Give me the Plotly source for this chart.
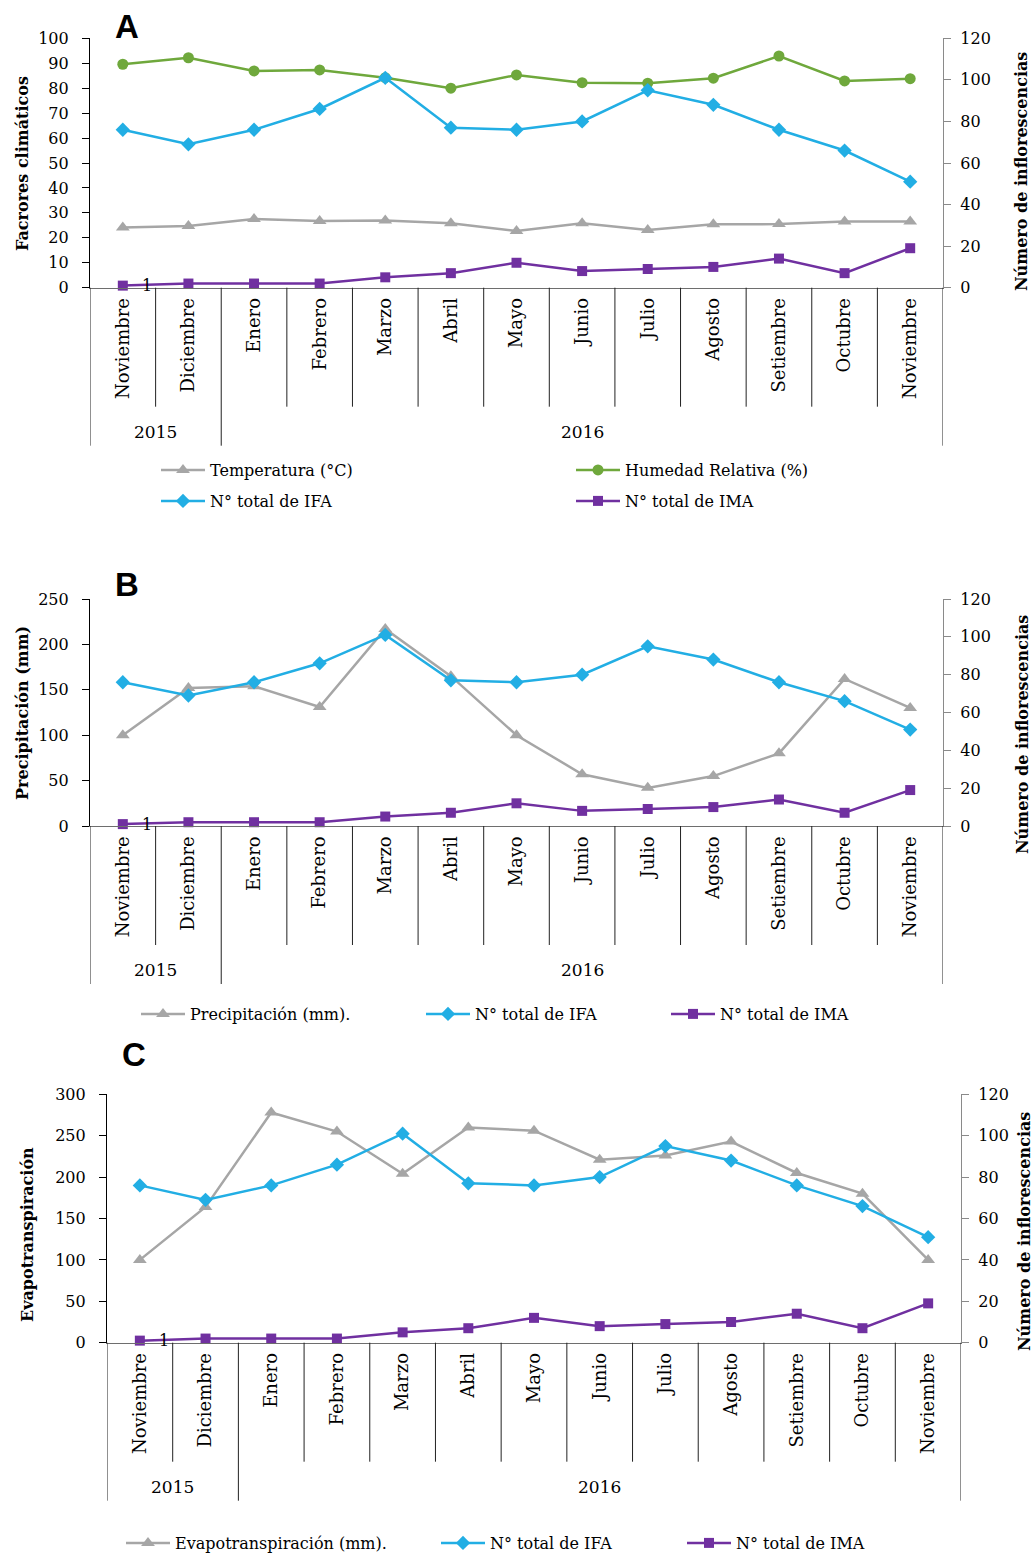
import plotly.graph_objects as go

# ---------------- datos ----------------
meses = ["Noviembre", "Diciembre", "Enero", "Febrero", "Marzo", "Abril", "Mayo",
         "Junio", "Julio", "Agosto", "Setiembre", "Octubre", "Noviembre"]
anios = ["2015", "2016"]
meses_por_anio = [2, 11]

temperatura = [24.1, 24.7, 27.5, 26.7, 26.9, 25.8, 22.7, 25.8, 23.1, 25.4, 25.5, 26.5, 26.5]
humedad = [89.6, 92.2, 86.9, 87.3, 84.2, 80.0, 85.3, 82.2, 82.0, 84.0, 92.9, 82.9, 83.8]
precipitacion = [100, 152, 154, 131, 217, 165, 100, 57, 42, 55, 80, 162, 130]
evapotranspiracion = [100, 164, 278, 255, 204, 260, 256, 221, 226, 243, 205, 180, 100]
ifa = [76, 69, 76, 86, 101, 77, 76, 80, 95, 88, 76, 66, 51]
ima = [1, 2, 2, 2, 5, 7, 12, 8, 9, 10, 14, 7, 19]

# ---------------- estilo ----------------
W, H = 1035, 1558
SERIF = "DejaVu Serif"
GRIS = "#a6a6a6"
VERDE = "#6fa83c"
AZUL = "#22aee4"
MORADO = "#7030a0"
EJE_DER = "#8a8a8a"


def fx(px):
    return px / W


def fy(py):
    return 1 - py / H


pos = list(range(len(meses)))

paneles = [
    dict(letra="A", letra_xy=(127, 26), caja=(90, 943, 38.3, 287.7),
         rango=100, paso=10,
         titulo_izq="Facrores climáticos", titulo_izq_xy=(22, 164),
         titulo_der_xy=(1022, 172),
         series=[("Temperatura (°C)", temperatura, GRIS, "triangle-up", 12),
                 ("Humedad Relativa (%)", humedad, VERDE, "circle", 11)],
         leyenda=[(160, 470), (575, 470), (160, 501), (575, 501)]),
    dict(letra="B", letra_xy=(127, 584), caja=(90, 943, 599, 826),
         rango=250, paso=50,
         titulo_izq="Precipitación (mm)", titulo_izq_xy=(22, 713),
         titulo_der_xy=(1022, 735),
         series=[("Precipitación (mm).", precipitacion, GRIS, "triangle-up", 12)],
         leyenda=[(140, 1014), (425, 1014), (670, 1014)]),
    dict(letra="C", letra_xy=(134, 1054), caja=(107, 961, 1094.3, 1342.7),
         rango=300, paso=50,
         titulo_izq="Evapotranspiración", titulo_izq_xy=(27, 1235),
         titulo_der_xy=(1024, 1232),
         series=[("Evapotranspiración (mm).", evapotranspiracion, GRIS, "triangle-up", 12)],
         leyenda=[(125, 1543), (440, 1543), (686, 1543)]),
]

fig = go.Figure()
layout = dict(width=W, height=H,
              margin=dict(l=0, r=0, t=0, b=0, autoexpand=False),
              paper_bgcolor="white", plot_bgcolor="white", showlegend=True)
shapes, annotations = [], []
n_leyenda = 0


def texto(x, y, t, fuente, xref="paper", yref="paper", **extra):
    d = dict(x=x, y=y, xref=xref, yref=yref, text=t, showarrow=False,
             xanchor="center", yanchor="middle", font=fuente)
    d.update(extra)
    return d


for i, p in enumerate(paneles):
    sx = "" if i == 0 else str(i + 1)
    sy_izq = "" if i == 0 else str(2 * i + 1)
    sy_der = str(2 * i + 2)
    xref, yref_izq, yref_der = "x" + sx, "y" + sy_izq, "y" + sy_der
    x0, x1, ytop, ybot = p["caja"]

    entradas = list(p["series"]) + [
        ("N° total de IFA", ifa, AZUL, "diamond", 11),
        ("N° total de IMA", ima, MORADO, "square", 10),
    ]
    n_izq = len(p["series"])
    for j, (nombre, valores, color, simbolo, tam) in enumerate(entradas):
        n_leyenda += 1
        lid = "legend" if n_leyenda == 1 else f"legend{n_leyenda}"
        lx, ly = p["leyenda"][j]
        fig.add_trace(go.Scatter(
            x=pos, y=valores, name=nombre, mode="lines+markers",
            line=dict(color=color, width=2.5),
            marker=dict(color=color, symbol=simbolo, size=tam),
            xaxis=xref, yaxis=yref_izq if j < n_izq else yref_der,
            legend=lid, cliponaxis=False,
        ))
        layout[lid] = dict(x=fx(lx - 4), y=fy(ly), xanchor="left", yanchor="middle",
                           bgcolor="rgba(0,0,0,0)", borderwidth=0, itemwidth=44,
                           font=dict(family=SERIF, size=16, color="black"))

    # etiqueta de valor del primer punto de IMA
    annotations.append(texto(pos[0], ima[0], str(ima[0]),
                             dict(family=SERIF, size=16, color="black"),
                             xref=xref, yref=yref_der, xshift=24))

    layout["xaxis" + sx] = dict(
        domain=[fx(x0), fx(x1)], anchor=yref_izq, range=[-0.5, len(meses) - 0.5],
        tickmode="array", tickvals=pos, ticktext=meses, tickangle=-90,
        tickfont=dict(family=SERIF, size=18, color="black"), ticks="",
        showline=True, linecolor="#6e6e6e", linewidth=1.2,
        showgrid=False, zeroline=False, ticklabelstandoff=2,
    )
    layout["yaxis" + sy_izq] = dict(
        domain=[fy(ybot), fy(ytop)], anchor=xref, range=[0, p["rango"]], dtick=p["paso"],
        ticks="outside", ticklen=7, tickcolor="black", tickwidth=1,
        showline=True, linecolor="black", linewidth=1.2,
        tickfont=dict(family=SERIF, size=16, color="black"),
        showgrid=False, zeroline=False, ticklabelstandoff=10,
    )
    layout["yaxis" + sy_der] = dict(
        overlaying=yref_izq, anchor=xref, side="right", range=[0, 120], dtick=20,
        ticks="outside", ticklen=7, tickcolor=EJE_DER, tickwidth=1,
        showline=True, linecolor=EJE_DER, linewidth=1.2,
        tickfont=dict(family=SERIF, size=16, color="black"),
        showgrid=False, zeroline=False, ticklabelstandoff=6,
    )

    # divisiones entre meses y entre años bajo el eje
    limites_anio = [-0.5]
    for n in meses_por_anio:
        limites_anio.append(limites_anio[-1] + n)
    for k in range(len(meses) + 1):
        b = k - 0.5
        largo = 158 if b in limites_anio else 119
        shapes.append(dict(type="line", xref=xref, yref="paper", x0=b, x1=b,
                           y0=fy(ybot), y1=fy(ybot + largo),
                           line=dict(color="#222222", width=1)))
    for a, anio in enumerate(anios):
        centro = (limites_anio[a] + limites_anio[a + 1]) / 2
        annotations.append(texto(centro, fy(ybot + 144), anio,
                                 dict(family=SERIF, size=17, color="black"),
                                 xref=xref))

    # títulos de ejes y letra del panel
    negrita = dict(family=SERIF, size=16, color="black", weight="bold")
    tx, ty = p["titulo_izq_xy"]
    annotations.append(texto(fx(tx), fy(ty), p["titulo_izq"], negrita, textangle=-90))
    tx, ty = p["titulo_der_xy"]
    annotations.append(texto(fx(tx), fy(ty), "Número de inflorescencias", negrita,
                             textangle=-90))
    lx, ly = p["letra_xy"]
    annotations.append(texto(fx(lx), fy(ly), p["letra"],
                             dict(family="Liberation Sans", size=33, color="black",
                                  weight="bold")))

layout["shapes"] = shapes
layout["annotations"] = annotations
fig.update_layout(**layout)
fig.write_html("out.html")
